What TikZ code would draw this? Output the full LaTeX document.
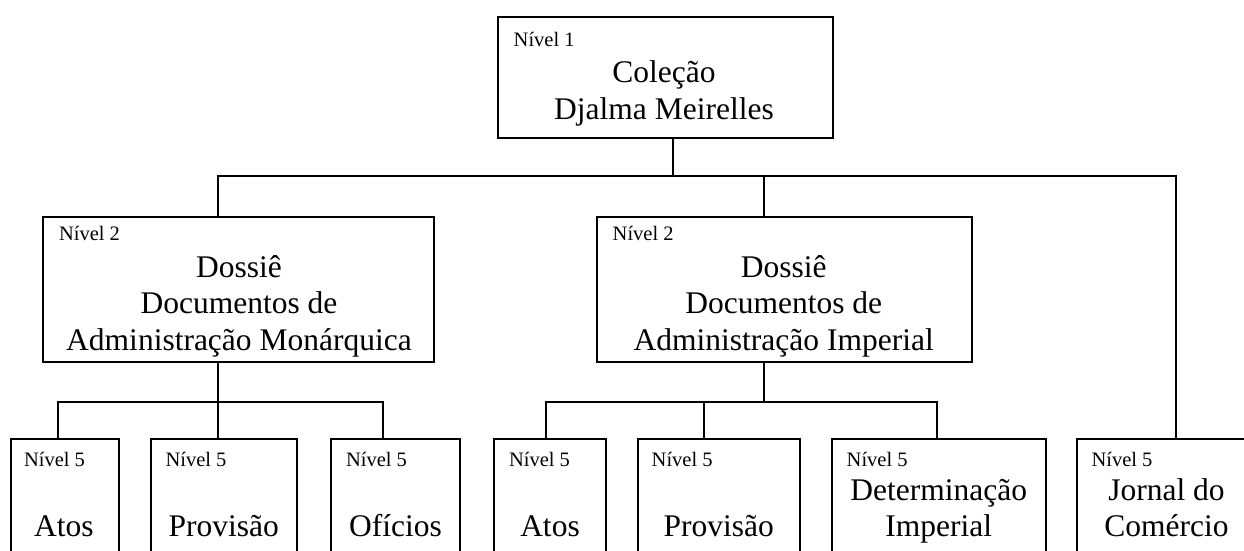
\documentclass[tikz,border=0pt]{standalone}
\usepackage{fontspec}
\setmainfont{Liberation Serif}
\usepackage{tikz}

\begin{document}
\begin{tikzpicture}[x=1pt,y=-1pt,line width=2pt,
      main box/.style={rectangle,draw,inner sep=0pt},
      low box/.style={main box,minimum height=160.7pt},
      level node/.style={anchor=base west,inner sep=0pt,font=\fontsize{20.5}{24}\selectfont},
      title node/.style={anchor=base,inner sep=0pt,align=center,font=\fontsize{31.5}{36.5}\selectfont}]

      \useasboundingbox (0,0) rectangle (1244,550);
      \clip (0,0) rectangle (1244,550);

      % top and second level
      \node[main box, minimum width=335pt, minimum height=121.3pt] (col) at (665.5,77.3) {};
      \node[main box, minimum width=391pt, minimum height=145pt] (dosM) at (238.5,289.5) {};
      \node[main box, minimum width=375pt, minimum height=145pt] (dosI) at (784.2,289.5) {};

      % fifth level
      \node[low box, minimum width=108pt] (atosA) at (65,519.65) {};
      \node[low box, minimum width=146pt] (provA) at (224,519.65) {};
      \node[low box, minimum width=129pt] (ofiA) at (395.5,519.65) {};
      \node[low box, minimum width=112pt] (atosB) at (550,519.65) {};
      \node[low box, minimum width=162.3pt] (provB) at (718.85,519.65) {};
      \node[low box, minimum width=214.3pt] (detB) at (938.85,519.65) {};
      \node[low box, minimum width=179pt] (jornal) at (1166.5,519.65) {};

      % texts (base = last line)
      \node[level node] (colL) at (512.7,46.7) {Nível 1};
      \node[title node] (colT) at (664,119) {Coleção\\Djalma Meirelles};
      \node[level node] (dosML) at (58,240.7) {Nível 2};
      \node[title node] (dosMT) at (239,350) {Dossiê\\Documentos de\\Administração Monárquica};
      \node[level node] (dosIL) at (611.7,240.7) {Nível 2};
      \node[title node] (dosIT) at (783.7,350) {Dossiê\\Documentos de\\Administração Imperial};

      \foreach \b/\dx in {atosA/13,provA/14.5,ofiA/15,atosB/15,provB/14,detB/15,jornal/14.5}
        \node[level node] (\b L) at ([xshift=\dx pt,yshift=-28pt]\b.north west) {Nível 5};

      \node[title node] (atosAT) at (64,536.7) {Atos};
      \node[title node] (provAT) at (223.7,536.7) {Provisão};
      \node[title node] (ofiAT) at (395.5,536.7) {Ofícios};
      \node[title node] (atosBT) at (550,536.7) {Atos};
      \node[title node] (provBT) at (718.8,536.7) {Provisão};
      \node[title node] (detBT) at (938.8,536.7) {Determinação\\Imperial};
      \node[title node] (jornalT) at (1166.5,536.7) {Jornal do\\Comércio};

      % connectors
      \draw ([xshift=-20.5pt]dosM.north) -- ++(0,-40) coordinate (busC) -| ([xshift=9.5pt]jornal.north);
      \draw ([xshift=7.2pt]col.south) -- ([xshift=7.2pt]col.south |- busC);
      \draw ([xshift=-20.2pt]dosI.north) -- ++(0,-40);

      \draw ([xshift=-20.5pt]dosM.south) -- ++(0,39) coordinate (busM);
      \draw ([xshift=-7.3pt]atosA.north) |- (busM) -| ([xshift=-12.8pt]ofiA.north);
      \draw (busM) -- ([xshift=-6pt]provA.north);

      \draw ([xshift=-20.2pt]dosI.south) -- ++(0,39) coordinate (busI);
      \draw ([xshift=-4pt]atosB.north) |- (busI) -| ([xshift=-2.2pt]detB.north);
      \draw ([xshift=-14.9pt]provB.north) -- ([xshift=-14.9pt]provB.north |- busI);
\end{tikzpicture}
\end{document}
